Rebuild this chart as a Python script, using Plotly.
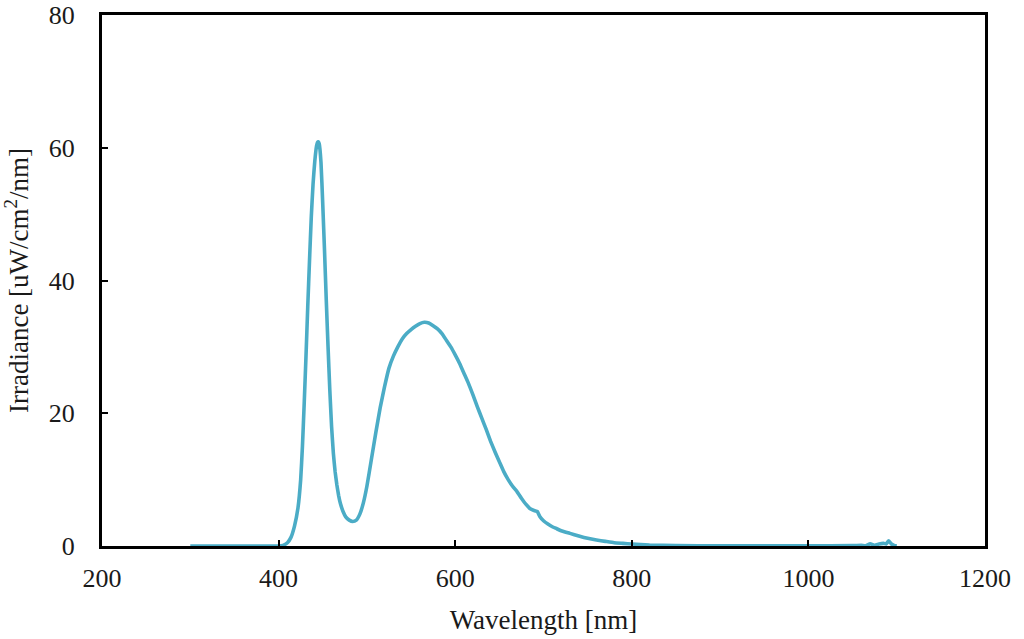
import plotly.graph_objects as go

wavelength_nm = [300, 350, 400, 405, 410, 414, 418, 422, 425, 427, 429, 431, 433, 435, 437, 439,
                 441, 443, 444, 445, 446, 448, 450, 452, 454, 456, 458, 460, 462, 464, 466,
                 468, 470, 473, 476, 480, 484, 488, 492, 496, 500, 505, 510, 515, 520, 525,
                 530, 535, 540, 545, 550, 555, 560, 565, 570, 575, 580, 585, 590, 595, 600,
                 605, 610, 615, 620, 625, 630, 635, 640, 645, 650, 655, 660, 665, 670, 675,
                 680, 685, 690, 693, 696, 700, 705, 710, 715, 720, 730, 740, 750, 760, 770,
                 780, 790, 800, 820, 850, 900, 950, 1000, 1050, 1060, 1065, 1070, 1075, 1080,
                 1085, 1088, 1091, 1094, 1097, 1100]
irradiance = [0.0, 0.0, 0.0, 0.1, 0.5, 1.3, 3.0, 5.8, 10.0, 15.0, 21.5, 28.5, 36.0, 43.0, 49.5, 54.5,
              58.0, 60.3, 60.8, 60.9, 60.6, 57.8, 51.5, 44.5, 37.0, 30.0, 23.5, 18.0, 14.0, 11.2, 9.2,
              7.6, 6.4, 5.2, 4.4, 3.9, 3.7, 3.9, 4.8, 6.5, 9.0, 13.0, 17.0, 20.8, 24.0, 26.8,
              28.6, 30.0, 31.2, 32.0, 32.6, 33.1, 33.5, 33.7, 33.6, 33.2, 32.7, 32.0, 31.0, 30.0, 28.8,
              27.5, 26.0, 24.5, 22.8, 21.0, 19.3, 17.6, 15.8, 14.2, 12.7, 11.2, 10.0, 9.0, 8.2, 7.2,
              6.3, 5.6, 5.3, 5.2, 4.4, 3.8, 3.3, 2.9, 2.6, 2.3, 1.9, 1.5, 1.15, 0.9, 0.7,
              0.5, 0.4, 0.3, 0.15, 0.05, 0.02, 0.02, 0.03, 0.05, 0.1, 0.05, 0.35, 0.1, 0.3,
              0.4, 0.3, 0.8, 0.3, 0.1, 0.0]

x_ticks = [200, 400, 600, 800, 1000, 1200]
y_ticks = [0, 20, 40, 60, 80]

font_family = "Liberation Serif, DejaVu Serif, serif"

fig = go.Figure()
fig.add_trace(go.Scatter(
    x=wavelength_nm, y=irradiance, mode="lines",
    line=dict(color="#4bacc6", width=3.6, shape="spline", smoothing=0.4),
    showlegend=False, hoverinfo="x+y",
))

axis_common = dict(
    showline=True, linecolor="black", linewidth=3, mirror=True,
    showgrid=False, zeroline=False, automargin=False,
    ticks="inside", ticklen=6, tickwidth=2, tickcolor="black",
    tickfont=dict(family=font_family, size=26, color="#1a1a1a"),
)

fig.update_layout(
    width=1024, height=639,
    margin=dict(l=102, r=39, t=15, b=93),
    plot_bgcolor="white", paper_bgcolor="white",
    font=dict(family=font_family, color="#1a1a1a"),
    xaxis=dict(
        range=[200, 1200], tickvals=x_ticks, ticktext=[str(v) for v in x_ticks],
        ticklabelstandoff=7,
        title=dict(text="Wavelength [nm]", font=dict(family=font_family, size=27), standoff=18),
        **axis_common,
    ),
    yaxis=dict(
        range=[0, 80], tickvals=y_ticks, ticktext=[str(v) for v in y_ticks],
        ticklabelstandoff=19,
        title=dict(text="Irradiance [uW/cm<sup>2</sup>/nm]", font=dict(family=font_family, size=27), standoff=16),
        **axis_common,
    ),
)

fig.write_html("out.html")
